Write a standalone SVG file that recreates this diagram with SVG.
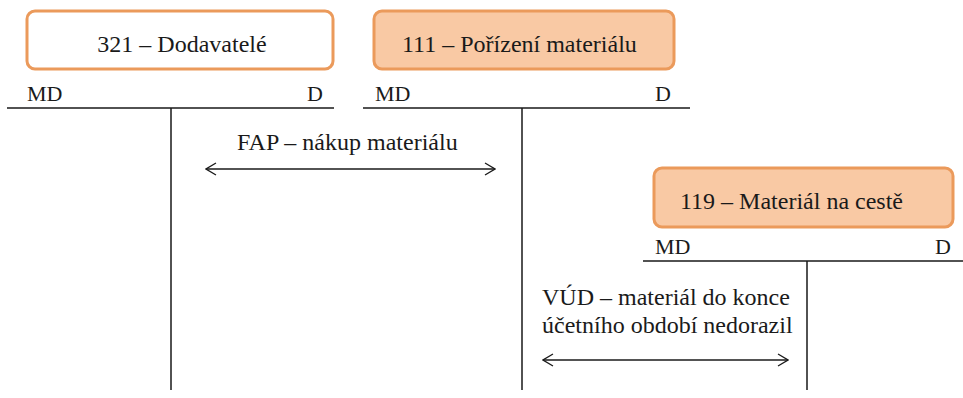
<svg xmlns="http://www.w3.org/2000/svg" width="963" height="398" viewBox="0 0 963 398">
<style>
.box{stroke:#EB9A5B;stroke-width:3}
.t{font-size:24px;fill:#1a1a1a}
.s{font-size:22px;fill:#1a1a1a}
.ln{stroke:#1a1a1a;stroke-width:1.5;fill:none}
.ar{stroke:#1a1a1a;stroke-width:1.3;fill:none;marker-start:url(#ah);marker-end:url(#ah)}
</style>
<defs>
<marker id="ah" viewBox="0 0 12 14" refX="11" refY="7" markerWidth="12" markerHeight="14" markerUnits="userSpaceOnUse" orient="auto-start-reverse">
<path d="M1,1 L11,7 L1,13" fill="none" stroke="#1a1a1a" stroke-width="1.3"/>
</marker>
</defs>
<rect width="963" height="398" fill="#fff"/>
<g font-family="Liberation Serif, DejaVu Serif, serif">
<g id="acc321">
<rect class="box" x="27" y="11" width="306" height="58" rx="8" fill="#fff"/>
<text class="t" x="182" y="52" text-anchor="middle">321 – Dodavatelé</text>
<text class="s" x="27" y="101">MD</text>
<text class="s" x="307" y="101">D</text>
</g>
<g id="acc111">
<rect class="box" x="374" y="11" width="300" height="58" rx="8" fill="#F9C9A4"/>
<text class="t" x="402" y="52">111 – Pořízení materiálu</text>
<text class="s" x="375" y="101">MD</text>
<text class="s" x="655" y="101">D</text>
</g>
<g id="acc119">
<rect class="box" x="654" y="168" width="299" height="59" rx="8" fill="#F9C9A4"/>
<text class="t" x="680" y="209">119 – Materiál na cestě</text>
<text class="s" x="655" y="254">MD</text>
<text class="s" x="935" y="254">D</text>
</g>
<g id="connectors">
<path class="ln" d="M7,108 H334 M171,108 V390"/>
<path class="ln" d="M363,108 H690 M522,108 V390"/>
<path class="ln" d="M643,261 H963 M807,261 V390"/>
<path class="ar" d="M206,169 H495"/>
<path class="ar" d="M543,360 H788"/>
</g>
<g id="labels">
<text class="t" x="237" y="150">FAP – nákup materiálu</text>
<text class="t" x="542" y="305">VÚD – materiál do konce</text>
<text class="t" x="542" y="333">účetního období nedorazil</text>
</g>
</g>
</svg>
